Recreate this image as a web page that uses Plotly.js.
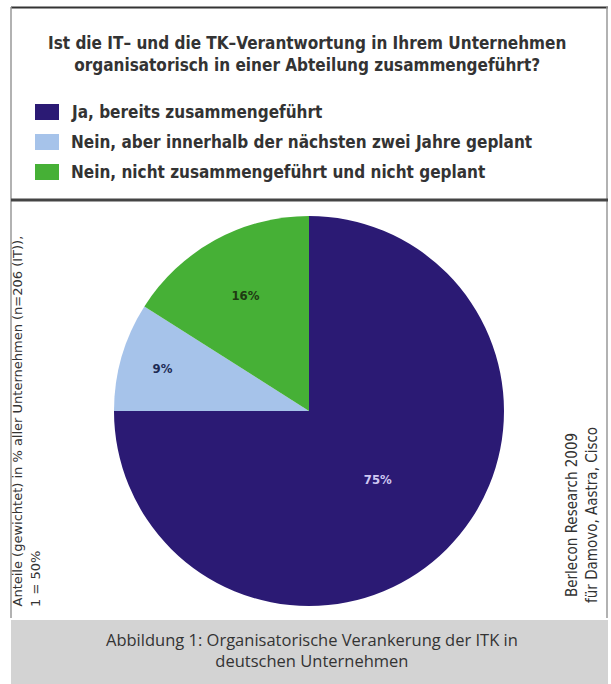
<!DOCTYPE html>
<html>
<head>
<meta charset="utf-8">
<script src="https://cdn.plot.ly/plotly-3.0.1.min.js"></script>
<style>
html,body{margin:0;padding:0;background:#fff;}
#chart{width:611px;height:684px;}
</style>
</head>
<body>
<div id="chart"></div>
<script>
// ---- data ----
const categories = [
  "Ja, bereits zusammengeführt",
  "Nein, aber innerhalb der nächsten zwei Jahre geplant",
  "Nein, nicht zusammengeführt und nicht geplant"
];
const shares = [75, 9, 16];
const sliceColors = ["#2b1a74", "#a6c3ea", "#46b036"];
const labelColors = ["#cfc8f2", "#1c2a55", "#1e3a12"];
const titleLines = [
  "Ist die IT– und die TK–Verantwortung in Ihrem Unternehmen",
  "organisatorisch in einer Abteilung zusammengeführt?"
];
const leftNote = ["Anteile (gewichtet) in % aller Unternehmen (n=206 (IT)),", "1 = 50%"];
const rightNote = ["Berlecon Research 2009", "für Damovo, Aastra, Cisco"];
const captionLines = ["Abbildung 1: Organisatorische Verankerung der ITK in", "deutschen Unternehmen"];

// ---- geometry helpers (pixels -> paper) ----
const W = 611, H = 684;
const px = x => x / W;
const py = y => 1 - y / H;

const trace = {
  type: "pie",
  labels: categories,
  values: shares,
  sort: false,
  direction: "clockwise",
  rotation: 0,
  marker: { colors: sliceColors, line: { width: 0 } },
  texttemplate: "<b>%{value}%</b>",
  textposition: "inside",
  insidetextorientation: "horizontal",
  textfont: { family: "DejaVu Sans Condensed, sans-serif", size: 13, color: labelColors },
  hoverinfo: "none",
  showlegend: false,
  domain: { x: [px(114), px(504)], y: [py(606), py(216)] }
};

const shapes = [];
const annotations = [];
const fontMain = "DejaVu Sans Condensed, sans-serif";

// frame
shapes.push({ type: "line", xref: "paper", yref: "paper", x0: px(11), x1: px(608), y0: py(7.5), y1: py(7.5), line: { color: "#333", width: 2 } });
shapes.push({ type: "line", xref: "paper", yref: "paper", x0: px(11), x1: px(11), y0: py(7), y1: py(618), line: { color: "#999", width: 1.5 } });
shapes.push({ type: "line", xref: "paper", yref: "paper", x0: px(607), x1: px(607), y0: py(7), y1: py(618), line: { color: "#999", width: 1.5 } });
shapes.push({ type: "line", xref: "paper", yref: "paper", x0: px(11), x1: px(608), y0: py(200), y1: py(200), line: { color: "#444", width: 3 } });
// caption band
shapes.push({ type: "rect", xref: "paper", yref: "paper", x0: px(11), x1: px(608), y0: py(620), y1: py(684), fillcolor: "#d3d3d3", line: { width: 0 }, layer: "below" });

// title
annotations.push({
  xref: "paper", yref: "paper", x: px(307), y: py(54), xanchor: "center", yanchor: "middle",
  text: "<b>" + titleLines.join("<br>") + "</b>", showarrow: false, align: "center",
  font: { family: fontMain, size: 17, color: "#333" }
});

// custom legend
const legendY = [112, 142, 172];
categories.forEach((c, i) => {
  shapes.push({ type: "rect", xref: "paper", yref: "paper",
    x0: px(35), x1: px(59), y0: py(legendY[i] - 8), y1: py(legendY[i] + 8),
    fillcolor: sliceColors[i], line: { width: 0 } });
  annotations.push({ xref: "paper", yref: "paper", x: px(69), y: py(legendY[i]),
    xanchor: "left", yanchor: "middle", text: "<b>" + c + "</b>", showarrow: false,
    font: { family: fontMain, size: 17, color: "#333" } });
});

// left rotated note (two lines placed separately)
annotations.push({
  xref: "paper", yref: "paper", x: px(17), y: py(609), xanchor: "center", yanchor: "bottom",
  text: leftNote[0], showarrow: false, textangle: -90,
  font: { family: "DejaVu Sans, sans-serif", size: 13, color: "#333" }
});
annotations.push({
  xref: "paper", yref: "paper", x: px(35), y: py(609), xanchor: "center", yanchor: "bottom",
  text: leftNote[1], showarrow: false, textangle: -90,
  font: { family: "DejaVu Sans, sans-serif", size: 13, color: "#333" }
});
// right rotated note
annotations.push({
  xref: "paper", yref: "paper", x: px(582), y: py(515), xanchor: "center", yanchor: "middle",
  text: rightNote.join("<br>"), showarrow: false, align: "center", textangle: -90,
  font: { family: fontMain, size: 15, color: "#333" }
});
// caption
annotations.push({
  xref: "paper", yref: "paper", x: px(312), y: py(650), xanchor: "center", yanchor: "middle",
  text: captionLines.join("<br>"), showarrow: false, align: "center",
  font: { family: "Open Sans, sans-serif", size: 16.5, color: "#333" }
});

const layout = {
  width: W, height: H,
  margin: { l: 0, r: 0, t: 0, b: 0 },
  paper_bgcolor: "#fff",
  showlegend: false,
  shapes, annotations
};

Plotly.newPlot("chart", [trace], layout, { displayModeBar: false, staticPlot: true });
</script>
</body>
</html>
